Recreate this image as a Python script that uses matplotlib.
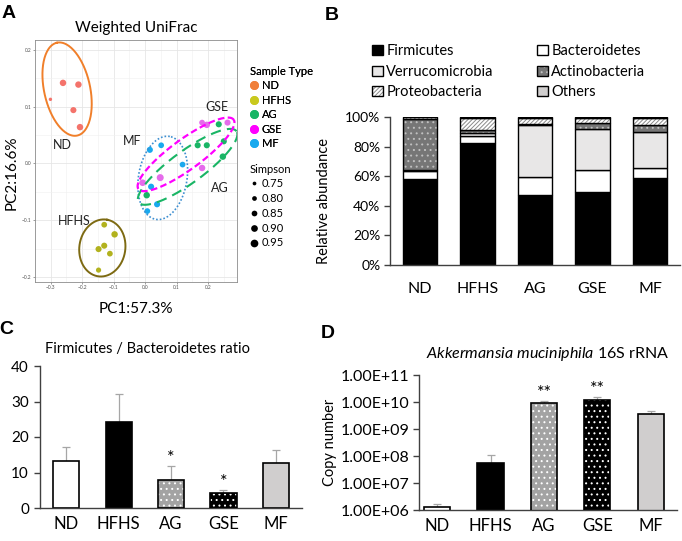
import numpy as np
import matplotlib
matplotlib.use("Agg")
import matplotlib.pyplot as plt
from matplotlib.patches import Patch
from matplotlib.lines import Line2D
from matplotlib.legend_handler import HandlerTuple

plt.rcParams['font.family'] = ['Lato', 'DejaVu Sans']
plt.rcParams['mathtext.fontset'] = 'custom'
plt.rcParams['mathtext.rm'] = 'Lato'
plt.rcParams['mathtext.it'] = 'Lato:italic'
plt.rcParams['hatch.linewidth'] = 0.7

W, H = 682, 541
fig = plt.figure(figsize=(W / 100, H / 100), dpi=100)

def fr(l, t, r, b):
    return [l / W, 1 - b / H, (r - l) / W, (b - t) / H]

# ---------------- data ----------------
groups = ['ND', 'HFHS', 'AG', 'GSE', 'MF']

# Panel A: PCoA coordinates and Simpson index
pc_nd_x = [-0.261, -0.212, -0.301, -0.228, -0.207]
pc_nd_y = [0.142, 0.139, 0.113, 0.094, 0.064]
simp_nd = [0.92, 0.92, 0.75, 0.90, 0.92]
pc_hfhs_x = [-0.130, -0.097, -0.130, -0.148, -0.112, -0.148]
pc_hfhs_y = [-0.108, -0.125, -0.145, -0.151, -0.159, -0.188]
simp_hfhs = [0.88, 0.92, 0.90, 0.90, 0.88, 0.85]
pc_ag_x = [0.005, 0.167, 0.196, 0.234, 0.250, 0.247]
pc_ag_y = [-0.056, 0.032, 0.032, 0.069, 0.039, 0.012]
simp_ag = [0.92, 0.90, 0.90, 0.90, 0.90, 0.92]
pc_gse_x = [-0.008, 0.048, 0.181, 0.181, 0.196, 0.262]
pc_gse_y = [-0.034, -0.025, -0.008, 0.072, 0.068, 0.072]
simp_gse = [0.93, 0.95, 0.92, 0.88, 0.92, 0.90]
pc_mf_x = [0.015, 0.051, 0.119, 0.019, 0.038, 0.007]
pc_mf_y = [0.024, 0.032, -0.002, -0.041, -0.072, -0.084]
simp_mf = [0.90, 0.88, 0.88, 0.90, 0.90, 0.88]
simpson_levels = [0.75, 0.80, 0.85, 0.90, 0.95]

# Panel B: relative abundance (fractions)
phyla = ['Firmicutes', 'Bacteroidetes', 'Verrucomicrobia', 'Actinobacteria', 'Proteobacteria', 'Others']
firmicutes = [0.582, 0.822, 0.473, 0.496, 0.589]
bacteroidetes = [0.056, 0.051, 0.123, 0.148, 0.067]
verrucomicrobia = [0.002, 0.017, 0.350, 0.276, 0.240]
actinobacteria = [0.344, 0.025, 0.010, 0.042, 0.050]
proteobacteria = [0.013, 0.075, 0.039, 0.033, 0.049]
others = [0.003, 0.010, 0.005, 0.005, 0.005]

# Panel C: F/B ratio
fb_ratio = [13.2, 24.2, 7.9, 4.1, 12.8]
fb_err = [4.0, 7.8, 3.8, 0.9, 3.4]
fb_sig = ['', '', '*', '*', '']

# Panel D: Akkermansia copy number
akk = [1.3e6, 5.6e7, 8.9e9, 1.18e10, 3.7e9]
akk_err = [0.3e6, 4.9e7, 2.3e9, 4.0e9, 0.8e9]
akk_sig = ['', '', '**', '**', '']

# ---------------- Panel A ----------------
axA = fig.add_axes(fr(35, 40, 237, 282))
K = 1.74  # display aspect of y relative to x

def ellipse(cx, cy, a, b, th):
    t = np.linspace(0, 2 * np.pi, 200)
    r = np.deg2rad(th)
    x = cx + a * np.cos(r) * np.cos(t) - b * np.sin(r) * np.sin(t)
    y = cy + (a * np.sin(r) * np.cos(t) + b * np.cos(r) * np.sin(t)) / K
    return x, y

def size_of(s):
    d = 3.4 + (np.asarray(s) - 0.75) / 0.2 * 3.6  # px diameter
    return (d * 0.72) ** 2

pt_cols = {'ND': '#F4736B', 'HFHS': '#B2B21E', 'AG': '#19B565', 'GSE': '#E56BEB', 'MF': '#19A9EE'}
leg_cols = {'ND': '#F07F3A', 'HFHS': '#C9C91E', 'AG': '#19B565', 'GSE': '#FF00FF', 'MF': '#19A9EE'}

for xs, ys, ss, g in [(pc_nd_x, pc_nd_y, simp_nd, 'ND'), (pc_hfhs_x, pc_hfhs_y, simp_hfhs, 'HFHS'),
                      (pc_mf_x, pc_mf_y, simp_mf, 'MF'), (pc_ag_x, pc_ag_y, simp_ag, 'AG'),
                      (pc_gse_x, pc_gse_y, simp_gse, 'GSE')]:
    axA.scatter(xs, ys, s=size_of(ss), color=pt_cols[g], lw=0, zorder=3)

ells = [((-0.248, 0.131, 0.146, 0.073, 103), '#F07F2A', '-', 1.4),
        ((-0.136, -0.149, 0.088, 0.073, 80), '#7D6A12', '-', 1.4),
        ((0.056, -0.0255, 0.129, 0.077, 80), '#3D8FD1', (0, (1, 1.2)), 1.2),
        ((0.135, -0.006, 0.19, 0.05, 35), '#19B565', (0, (5, 3)), 1.5),
        ((0.130, 0.016, 0.185, 0.047, 35), '#FF00FF', (0, (3, 1.5)), 1.6)]
for p, c, ls, lw in ells:
    ex, ey = ellipse(*p)
    axA.plot(ex, ey, color=c, ls=ls, lw=lw, zorder=4)

for txt, x, y in [('ND', -0.264, 0.033), ('HFHS', -0.224, -0.102), ('MF', -0.040, 0.039),
                  ('GSE', 0.227, 0.099), ('AG', 0.239, -0.044)]:
    axA.text(x, y, txt, fontsize=9, ha='center', va='center', color='#222222', zorder=5)

axA.set_xlim(-0.328, 0.292)
axA.set_ylim(-0.209, 0.2176)
axA.set_xticks([-0.3, -0.2, -0.1, 0.0, 0.1, 0.2])
axA.set_yticks([-0.2, -0.1, 0.0, 0.1, 0.2])
axA.set_xticks(np.arange(-0.35, 0.3, 0.1), minor=True)
axA.set_yticks([-0.15, -0.05, 0.05, 0.15], minor=True)
axA.grid(which='major', color='#E6E6E6', lw=0.6)
axA.grid(which='minor', color='#F0F0F0', lw=0.4)
axA.set_axisbelow(True)
axA.tick_params(which='major', labelsize=3.5, labelcolor='#555555', color='#555555', length=1.5, width=0.4, pad=1)
axA.tick_params(which='minor', length=0)
for s in axA.spines.values():
    s.set_color('#8C8C8C'); s.set_linewidth(0.6)
axA.set_title('Weighted UniFrac', fontsize=11, pad=6)
axA.set_xlabel('PC1:57.3%', fontsize=11, labelpad=8)
fig.text(12 / W, 1 - 173 / H, 'PC2:16.6%', fontsize=11, rotation=90, ha='center', va='center')

h1 = [Line2D([], [], marker='o', ls='', ms=6.4, mfc=leg_cols[g], mec='none') for g in groups]
lg1 = fig.legend(h1, groups, title='Sample Type', loc='upper left', bbox_to_anchor=(244 / W, 1 - 60 / H),
                 frameon=False, fontsize=8, title_fontsize=8, handlelength=0.8, handletextpad=0.3,
                 labelspacing=0.32, borderpad=0, alignment='left')
h2 = [Line2D([], [], marker='o', ls='', ms=np.sqrt(size_of(s)) * 1.1, mfc='black', mec='none') for s in simpson_levels]
lg2 = fig.legend(h2, ['%.2f' % s for s in simpson_levels], title='Simpson', loc='upper left',
                 bbox_to_anchor=(244 / W, 1 - 158 / H), frameon=False, fontsize=8, title_fontsize=8,
                 handlelength=0.8, handletextpad=0.3, labelspacing=0.34, borderpad=0, alignment='left')
fig.add_artist(lg1)

# ---------------- Panel B ----------------
axB = fig.add_axes(fr(390, 117, 680, 265))
xpos = np.arange(len(groups))
styles = {
    'Firmicutes': dict(fc='black', hatch=None, hc=None),
    'Bacteroidetes': dict(fc='white', hatch=None, hc=None),
    'Verrucomicrobia': dict(fc='#E8E7E7', hatch=None, hc=None),
    'Actinobacteria': dict(fc='#767676', hatch='...', hc='#C0C0C0'),
    'Proteobacteria': dict(fc='white', hatch='////////', hc='#8A8A8A'),
    'Others': dict(fc='#D0CECE', hatch=None, hc=None),
}
series = [firmicutes, bacteroidetes, verrucomicrobia, actinobacteria, proteobacteria, others]
bottom = np.zeros(len(groups))
for name, vals in zip(phyla, series):
    st = styles[name]
    if st['hatch']:
        axB.bar(xpos, vals, 0.6, bottom=bottom, color=st['fc'], hatch=st['hatch'], edgecolor=st['hc'], lw=0)
        axB.bar(xpos, vals, 0.6, bottom=bottom, fill=False, edgecolor='black', lw=1.0)
    else:
        axB.bar(xpos, vals, 0.6, bottom=bottom, color=st['fc'], edgecolor='black', lw=1.0)
    bottom += np.asarray(vals)
axB.set_xlim(-0.52, 4.52)
axB.set_ylim(0, 1.0)
axB.set_yticks(np.linspace(0, 1, 6))
axB.set_yticklabels(['0%', '20%', '40%', '60%', '80%', '100%'])
axB.set_xticks(xpos)
axB.set_xticklabels(groups)
axB.spines['top'].set_visible(False)
axB.spines['right'].set_visible(False)
for s in ['left', 'bottom']:
    axB.spines[s].set_color('#404040'); axB.spines[s].set_linewidth(1.0)
axB.tick_params(axis='y', labelsize=10, length=4, width=1.0, color='#404040', pad=3)
axB.tick_params(axis='x', labelsize=11.5, length=0, pad=12)
axB.set_ylabel('Relative abundance', fontsize=10.5, labelpad=3)
axB.yaxis.set_label_coords(-0.205, 0.43)

def handle(name):
    st = styles[name]
    if st['hatch']:
        return (Patch(facecolor=st['fc'], hatch=st['hatch'], edgecolor=st['hc'], lw=0),
                Patch(fill=False, edgecolor='black', lw=1.0))
    return Patch(facecolor=st['fc'], edgecolor='black', lw=1.0)

order = ['Firmicutes', 'Verrucomicrobia', 'Proteobacteria', 'Bacteroidetes', 'Actinobacteria', 'Others']
fig.legend([handle(n) for n in order], order, ncol=2, loc='upper left', bbox_to_anchor=(365 / W, 1 - 37 / H),
           frameon=False, fontsize=10.5, handlelength=0.7, handleheight=0.7, handletextpad=0.25,
           labelspacing=0.45, columnspacing=3.0, borderpad=0,
           handler_map={tuple: HandlerTuple(ndivide=1, pad=0)})

# ---------------- Panel C ----------------
axC = fig.add_axes(fr(40, 366, 302, 508))
def patterned_bars(ax, vals, width):
    fcs = ['white', 'black', '#A3A3A3', 'black', '#D0CECE']
    hatches = [None, None, '...', '...', None]
    hcs = [None, None, 'white', 'white', None]
    for i, v in enumerate(vals):
        if hatches[i]:
            ax.bar(i, v, width, color=fcs[i], hatch=hatches[i], edgecolor=hcs[i], lw=0, zorder=2)
            ax.bar(i, v, width, fill=False, edgecolor='black', lw=1.2, zorder=3)
        else:
            ax.bar(i, v, width, color=fcs[i], edgecolor='black', lw=1.2, zorder=2)

patterned_bars(axC, fb_ratio, 0.5)
axC.errorbar(np.arange(5), fb_ratio, yerr=[np.zeros(5), fb_err], fmt='none', ecolor='#A6A6A6',
             elinewidth=0.9, capsize=3, capthick=0.9, zorder=1)
for i, (v, e, s) in enumerate(zip(fb_ratio, fb_err, fb_sig)):
    if s:
        axC.annotate(s, (i, v + e), xytext=(0, 0), textcoords='offset points', ha='center', va='bottom', fontsize=13)
axC.set_xlim(-0.5, 4.5)
axC.set_ylim(0, 40)
axC.set_yticks([0, 10, 20, 30, 40])
axC.set_xticks(np.arange(5))
axC.set_xticklabels(groups)
axC.spines['top'].set_visible(False)
axC.spines['right'].set_visible(False)
for s in ['left', 'bottom']:
    axC.spines[s].set_color('#404040'); axC.spines[s].set_linewidth(1.0)
axC.tick_params(axis='y', labelsize=11, length=4, width=1.0, color='#404040', pad=4)
axC.tick_params(axis='x', labelsize=12, length=0, pad=6)
axC.set_title('Firmicutes / Bacteroidetes ratio', fontsize=10.5, pad=9, x=0.41)

# ---------------- Panel D ----------------
axD = fig.add_axes(fr(419, 375, 677, 510))
axD.set_yscale('log')
patterned_bars(axD, akk, 0.49)
axD.errorbar(np.arange(5), akk, yerr=[np.zeros(5), akk_err], fmt='none', ecolor='#A6A6A6',
             elinewidth=0.9, capsize=3, capthick=0.9, zorder=1)
for i, (v, e, s) in enumerate(zip(akk, akk_err, akk_sig)):
    if s:
        axD.annotate(s, (i, v + e), xytext=(0, 0), textcoords='offset points', ha='center', va='bottom', fontsize=13)
axD.set_xlim(-0.34, 4.49)
axD.set_ylim(1e6, 1e11)
ticks_d = [1e6, 1e7, 1e8, 1e9, 1e10, 1e11]
axD.set_yticks(ticks_d)
axD.set_yticklabels(['%.2E' % t for t in ticks_d])
axD.yaxis.set_minor_locator(matplotlib.ticker.NullLocator())
axD.set_xticks(np.arange(5))
axD.set_xticklabels(groups)
axD.spines['top'].set_visible(False)
axD.spines['right'].set_visible(False)
for s in ['left', 'bottom']:
    axD.spines[s].set_color('#404040'); axD.spines[s].set_linewidth(1.0)
axD.tick_params(axis='y', labelsize=11.5, length=4, width=1.0, color='#404040', pad=3)
axD.tick_params(axis='x', labelsize=12, length=0, pad=6)
axD.set_ylabel('Copy number', fontsize=10.5)
axD.yaxis.set_label_coords(-0.318, 0.5)
axD.set_title(r'$\it{Akkermansia\ muciniphila}$ 16S rRNA', fontsize=11.5, pad=12, x=0.5)

# ---------------- panel letters ----------------
for lab, x, y in [('A', 9, 14), ('B', 332, 15), ('C', 6, 329), ('D', 328, 333)]:
    fig.text(x / W, 1 - y / H, lab, fontsize=14, fontweight='bold', family='Liberation Sans',
             ha='center', va='center')

fig.savefig('out.png', dpi=100)
